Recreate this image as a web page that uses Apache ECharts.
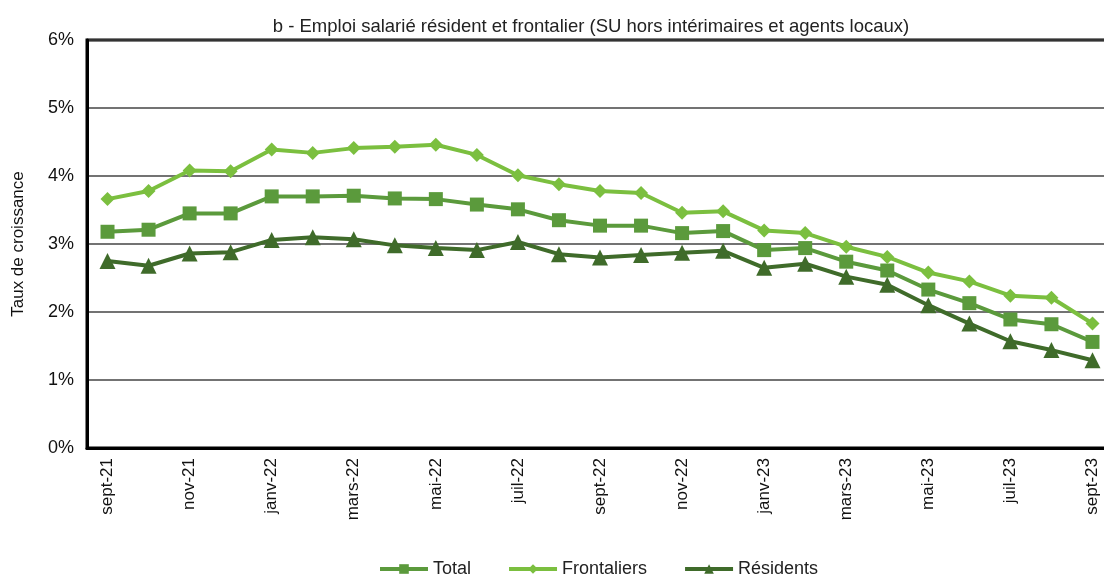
<!DOCTYPE html>
<html>
<head>
<meta charset="utf-8">
<script src="https://cdn.jsdelivr.net/npm/echarts@6/dist/echarts.min.js"></script>
<style>html,body{margin:0;padding:0;background:#fff}#c{width:1104px;height:577px}</style>
</head>
<body>
<div id="c"></div>
<script>
const categories = ['sept-21','oct-21','nov-21','déc-21','janv-22','févr-22','mars-22','avr-22','mai-22','juin-22','juil-22','août-22','sept-22','oct-22','nov-22','déc-22','janv-23','févr-23','mars-23','avr-23','mai-23','juin-23','juil-23','août-23','sept-23'];
const total = [3.18,3.21,3.45,3.45,3.70,3.70,3.71,3.67,3.66,3.58,3.51,3.35,3.27,3.27,3.16,3.19,2.91,2.94,2.74,2.61,2.33,2.13,1.89,1.82,1.56];
const frontaliers = [3.66,3.78,4.08,4.07,4.39,4.34,4.41,4.43,4.46,4.31,4.01,3.88,3.78,3.75,3.46,3.48,3.20,3.16,2.96,2.81,2.58,2.45,2.24,2.21,1.83];
const residents = [2.75,2.68,2.86,2.88,3.06,3.10,3.07,2.98,2.94,2.91,3.03,2.85,2.80,2.84,2.87,2.90,2.65,2.71,2.52,2.40,2.10,1.83,1.57,1.44,1.29];
const yTicks = [0,1,2,3,4,5,6];

const chart = echarts.init(document.getElementById('c'));
const font = 'Liberation Sans, Arial, sans-serif';
function ser(name, data, color, symbol, size) {
  return {
    name, type: 'line', data, symbol, symbolSize: size,
    lineStyle: { color, width: 4 },
    itemStyle: { color },
    z: 3
  };
}
chart.setOption({
  animation: false,
  title: {
    text: 'b - Emploi salarié résident et frontalier (SU hors intérimaires et agents locaux)',
    left: 586, top: 12, textAlign: 'center',
    textStyle: { fontFamily: font, fontSize: 18.5, fontWeight: 'normal', color: '#222' }
  },
  grid: { left: 87, top: 40, right: -9, bottom: 129, show: true, borderColor: '#000', borderWidth: 3, containLabel: false, outerBoundsMode: 'none' },
  legend: {
    top: 555, left: 373, itemWidth: 48, itemHeight: 12, itemGap: 36,
    lineStyle: { width: 4 },
    textStyle: { fontFamily: font, fontSize: 18, color: '#222' },
    data: ['Total', 'Frontaliers', 'Résidents']
  },
  xAxis: {
    type: 'category', data: categories, boundaryGap: true,
    axisLine: { lineStyle: { color: '#000', width: 3 } },
    axisTick: { show: false },
    axisLabel: { interval: 1, rotate: 90, margin: 10, fontFamily: font, fontSize: 17, color: '#111' }
  },
  yAxis: {
    type: 'value', min: 0, max: 6, interval: 1,
    name: 'Taux de croissance', nameLocation: 'middle', nameGap: 60,
    nameTextStyle: { fontFamily: font, fontSize: 17, color: '#111' },
    axisLine: { show: true, lineStyle: { color: '#000', width: 3 } },
    axisTick: { show: false },
    axisLabel: { margin: 13, fontFamily: font, fontSize: 18, color: '#111', formatter: v => yTicks.includes(v) ? v + '%' : '' },
    splitLine: { lineStyle: { color: '#444', width: 1.5 } }
  },
  series: [
    ser('Total', total, '#5b9a3c', 'rect', 14),
    ser('Frontaliers', frontaliers, '#7bbf3f', 'diamond', 14),
    ser('Résidents', residents, '#3f6b2a', 'triangle', 16)
  ]
});
</script>
</body>
</html>
